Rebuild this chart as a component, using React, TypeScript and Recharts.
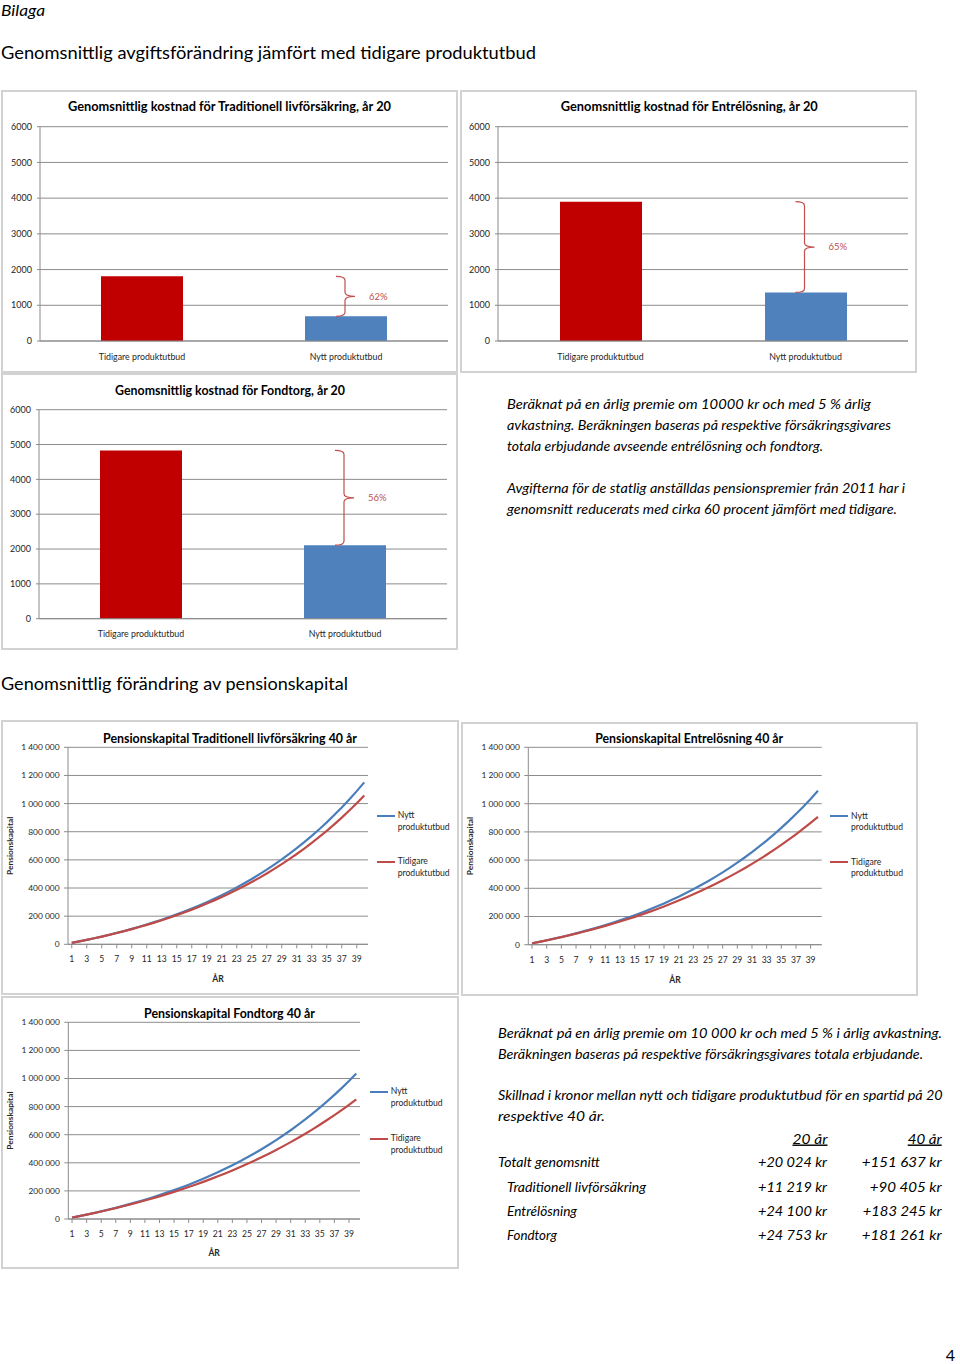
import React from 'react';
import {
  BarChart,
  Bar,
  Cell,
  XAxis,
  YAxis,
  CartesianGrid,
  ReferenceLine,
  LineChart,
  Line,
  Legend,
  Label,
} from 'recharts';

const FONT = 'Lato, "Open Sans", sans-serif';
const GRID = '#8c8c8c';
const TICK_FILL = '#262626';
const BRACE = '#c0504d';

// ---------- bar charts (fees, year 20) ----------
const barCategories = ['Tidigare produktutbud', 'Nytt produktutbud'];
const barColors = ['#c00000', '#4f81bd'];
const tradCost = [1810, 690];
const entreCost = [3900, 1360];
const fondCost = [4830, 2110];
const costTicks = [0, 1000, 2000, 3000, 4000, 5000, 6000];
const reductionLabels = ['62%', '65%', '56%'];
const costTitles = [
  'Genomsnittlig kostnad för Traditionell livförsäkring, år 20',
  'Genomsnittlig kostnad för Entrélösning, år 20',
  'Genomsnittlig kostnad för Fondtorg, år 20',
];

// ---------- line charts (pension capital, 40 years) ----------
const years = [
  1, 2, 3, 4, 5, 6, 7, 8, 9, 10, 11, 12, 13, 14, 15, 16, 17, 18, 19, 20,
  21, 22, 23, 24, 25, 26, 27, 28, 29, 30, 31, 32, 33, 34, 35, 36, 37, 38, 39, 40,
];
const tradNytt = [
  10000, 20500, 31500, 43000, 55000, 67700, 80900, 94800, 109400, 124600,
  140600, 157300, 174900, 193300, 212600, 232800, 253900, 276100, 299400, 323800,
  349300, 376100, 404100, 433500, 464300, 496600, 530400, 565900, 603100, 642000,
  682800, 725600, 770400, 817400, 866700, 918300, 972300, 1029000, 1088400, 1150600,
];
const tradTidigare = [
  10000, 20400, 31400, 42800, 54700, 67100, 80100, 93600, 107800, 122600,
  138100, 154200, 171100, 188700, 207100, 226300, 246300, 267300, 289200, 312100,
  336000, 360900, 387000, 414200, 442600, 472300, 503300, 535700, 569600, 604900,
  641800, 680400, 720700, 762800, 806700, 852600, 900500, 950600, 1002900, 1057500,
];
const entreNytt = [
  10000, 20500, 31400, 42800, 54800, 67300, 80400, 94100, 108400, 123300,
  139000, 155400, 172500, 190400, 209100, 228700, 249100, 270600, 292900, 316400,
  340800, 366500, 393200, 421300, 450500, 481200, 513200, 546700, 581800, 618400,
  656700, 696800, 738700, 782600, 828400, 876300, 926500, 978900, 1033700, 1091100,
];
const entreTidigare = [
  10000, 20400, 31200, 42300, 53900, 66000, 78500, 91500, 105000, 119000,
  133500, 148500, 164200, 180400, 197300, 214800, 232900, 251800, 271400, 291700,
  312800, 334600, 357400, 380900, 405400, 430800, 457200, 484600, 513000, 542500,
  573100, 604900, 637900, 672100, 707600, 744500, 782800, 822600, 863800, 906600,
];
const fondNytt = [
  10000, 20400, 31300, 42700, 54600, 66900, 79900, 93300, 107400, 122100,
  137400, 153400, 170100, 187500, 205700, 224600, 244400, 265100, 286700, 309200,
  332600, 357100, 382700, 409400, 437200, 466300, 496600, 528300, 561300, 595800,
  631800, 669300, 708500, 749400, 792100, 836600, 883100, 931600, 982200, 1035000,
];
const fondTidigare = [
  10000, 20400, 31100, 42200, 53700, 65600, 77900, 90600, 103800, 117500,
  131600, 146300, 161400, 177100, 193400, 210200, 227600, 245700, 264300, 283700,
  303700, 324400, 345900, 368100, 391100, 414900, 439500, 465000, 491400, 518800,
  547100, 576400, 606800, 638200, 670700, 704400, 739200, 775300, 812700, 851400,
];
const capitalTicks = [0, 200000, 400000, 600000, 800000, 1000000, 1200000, 1400000];
const seriesNames = ['Nytt produktutbud', 'Tidigare produktutbud'];
const seriesColors = ['#4a7ebb', '#be4b48'];
const capitalTitles = [
  'Pensionskapital Traditionell livförsäkring 40 år',
  'Pensionskapital Entrelösning 40 år',
  'Pensionskapital Fondtorg 40 år',
];

// ---------- page text ----------
const pageTitle = 'Bilaga';
const heading1 = 'Genomsnittlig avgiftsförändring jämfört med tidigare produktutbud';
const heading2 = 'Genomsnittlig förändring av pensionskapital';
const feeNoteLines = [
  'Beräknat på en årlig premie om 10000 kr och med 5 % årlig',
  'avkastning. Beräkningen baseras på respektive försäkringsgivares',
  'totala erbjudande avseende entrélösning och fondtorg.',
  'Avgifterna för de statlig anställdas pensionspremier från 2011 har i',
  'genomsnitt reducerats med cirka 60 procent jämfört med tidigare.',
];
const capitalNoteLines = [
  'Beräknat på en årlig premie om 10 000 kr och med 5 % i årlig avkastning.',
  'Beräkningen baseras på respektive försäkringsgivares totala erbjudande.',
  'Skillnad i kronor mellan nytt och tidigare produktutbud för en spartid på 20',
  'respektive 40 år.',
];
const tableHeaders = ['20 år', '40 år'];
const tableLabels = ['Totalt genomsnitt', 'Traditionell livförsäkring', 'Entrélösning', 'Fondtorg'];
const diff20 = ['+20 024 kr', '+11 219 kr', '+24 100 kr', '+24 753 kr'];
const diff40 = ['+151 637 kr', '+90 405 kr', '+183 245 kr', '+181 261 kr'];
const pageNumber = '4';

const fmtSpace = (v: number) => String(v).replace(/\B(?=(\d{3})+(?!\d))/g, ' ');

const tickStyle = { fontSize: 9, fill: TICK_FILL, fontFamily: FONT };

function Frame() {
  return (
    <div
      style={{
        position: 'absolute',
        left: 0,
        top: 0,
        right: 0,
        bottom: 0,
        border: '2px solid #d2d2d2',
        boxSizing: 'border-box',
        pointerEvents: 'none',
      }}
    />
  );
}

function Brace(props: any) {
  const { x1, y1, y2, label } = props;
  if (x1 == null || y1 == null || y2 == null) return null;
  const x = x1 - 1;
  const top = Math.min(y1, y2);
  const bot = Math.max(y1, y2);
  const mid = (top + bot) / 2;
  const d = `M ${x - 9} ${top} Q ${x} ${top} ${x} ${top + 4} L ${x} ${mid - 4} Q ${x} ${mid} ${x + 10} ${mid} Q ${x} ${mid} ${x} ${mid + 4} L ${x} ${bot - 4} Q ${x} ${bot} ${x - 9} ${bot}`;
  return (
    <g>
      <path d={d} fill="none" stroke={BRACE} strokeWidth={1.2} />
      <text x={x + 24} y={mid} dy="0.35em" fontSize={9.5} fill={BRACE} fontFamily={FONT}>
        {label}
      </text>
    </g>
  );
}

function CostChart({ box, plot, values, pct }: any) {
  const data = barCategories.map((c, i) => ({ name: c, value: values[i] }));
  return (
    <div style={{ position: 'absolute', left: box.left, top: box.top, width: box.w, height: box.h }}>
      <BarChart
        width={box.w}
        height={box.h}
        data={data}
        margin={{ top: plot.top, right: plot.right, bottom: 0, left: 0 }}
      >
        <CartesianGrid vertical={false} stroke={GRID} />
        <XAxis
          dataKey="name"
          height={plot.bottom}
          interval={0}
          tickLine={false}
          tickSize={4}
          tickMargin={8.5}
          axisLine={{ stroke: GRID }}
          tick={{ ...tickStyle, fontSize: 8.8 }}
        />
        <YAxis
          width={plot.left}
          domain={[0, 6000]}
          ticks={costTicks}
          interval={0}
          tickSize={3}
          tickMargin={5}
          axisLine={{ stroke: GRID }}
          tickLine={{ stroke: GRID }}
          tick={tickStyle}
        />
        <Bar dataKey="value" barSize={82} isAnimationActive={false}>
          {data.map((d, i) => (
            <Cell key={d.name} fill={barColors[i]} />
          ))}
        </Bar>
        <ReferenceLine
          segment={[
            { x: barCategories[1], y: values[0] },
            { x: barCategories[1], y: values[1] },
          ]}
          ifOverflow="visible"
          shape={(p: any) => <Brace {...p} label={pct} />}
        />
      </BarChart>
      <Frame />
    </div>
  );
}

function LegendContent(props: any) {
  const { payload, spacing } = props;
  return (
    <div style={{ fontFamily: FONT, fontSize: 8.6, color: TICK_FILL, lineHeight: '11.5px' }}>
      {(payload || []).map((entry: any, i: number) => {
        const parts = String(entry.value).split(' ');
        return (
          <div key={i} style={{ position: 'relative', height: spacing, paddingLeft: 21, whiteSpace: 'nowrap' }}>
            <div
              style={{
                position: 'absolute',
                left: 0,
                top: 4.75,
                width: 18,
                height: 2.2,
                background: entry.color,
              }}
            />
            <div>{parts[0]}</div>
            <div>{parts.slice(1).join(' ')}</div>
          </div>
        );
      })}
    </div>
  );
}

function CapitalChart({ box, plot, nytt, tidigare, legend }: any) {
  const data = years.map((y, i) => ({ year: y, nytt: nytt[i], tidigare: tidigare[i] }));
  return (
    <div style={{ position: 'absolute', left: box.left, top: box.top, width: box.w, height: box.h }}>
      <LineChart
        width={box.w}
        height={box.h}
        data={data}
        margin={{ top: plot.top, right: plot.right, bottom: 0, left: 0 }}
      >
        <CartesianGrid vertical={false} stroke={GRID} />
        <XAxis
          dataKey="year"
          height={plot.bottom}
          interval={1}
          padding={{ left: 3.75, right: 3.75 }}
          tickSize={4}
          tickMargin={8}
          tickLine={{ stroke: GRID }}
          axisLine={{ stroke: GRID }}
          tick={{ ...tickStyle, fontSize: 8.6 }}
        >
          <Label
            value="ÅR"
            position="insideBottom"
            offset={13}
            style={{ fontSize: 8.6, fontWeight: 700, fill: TICK_FILL, fontFamily: FONT }}
          />
        </XAxis>
        <YAxis
          width={plot.left}
          domain={[0, 1400000]}
          ticks={capitalTicks}
          interval={0}
          tickFormatter={fmtSpace}
          tickSize={4}
          tickMargin={4.5}
          axisLine={{ stroke: GRID }}
          tickLine={{ stroke: GRID }}
          tick={{ ...tickStyle, fontSize: 8.4 }}
        >
          <Label
            value="Pensionskapital"
            angle={-90}
            position="insideLeft"
            offset={9}
            style={{ fontSize: 8.4, fontWeight: 700, fill: TICK_FILL, fontFamily: FONT, textAnchor: 'middle' }}
          />
        </YAxis>
        <Line
          type="linear"
          dataKey="nytt"
          name={seriesNames[0]}
          stroke={seriesColors[0]}
          strokeWidth={2.2}
          dot={false}
          isAnimationActive={false}
        />
        <Line
          type="linear"
          dataKey="tidigare"
          name={seriesNames[1]}
          stroke={seriesColors[1]}
          strokeWidth={2.2}
          dot={false}
          isAnimationActive={false}
        />
        <Legend
          layout="vertical"
          align="center"
          verticalAlign="middle"
          wrapperStyle={{ left: legend.left, top: legend.top, width: 90, height: 100 }}
          content={(p: any) => <LegendContent {...p} spacing={legend.spacing} />}
        />
      </LineChart>
      <Frame />
    </div>
  );
}

function PText({ x, y, len, size, italic, bold, anchor, underline, children }: any) {
  return (
    <text
      x={x}
      y={y}
      textLength={len}
      lengthAdjust={len ? 'spacingAndGlyphs' : undefined}
      fontSize={size}
      fontStyle={italic ? 'italic' : 'normal'}
      fontWeight={bold ? 700 : 400}
      textAnchor={anchor || 'start'}
      textDecoration={underline ? 'underline' : undefined}
      fontFamily={FONT}
      fill="#000"
    >
      {children}
    </text>
  );
}

export default function App() {
  const feeLayout = [
    { y: 408.5, len: 364 },
    { y: 429.5, len: 384 },
    { y: 450.5, len: 316 },
    { y: 492.5, len: 398 },
    { y: 513.5, len: 390 },
  ];
  const capLayout = [
    { y: 1037.5, len: 444 },
    { y: 1059, len: 425 },
    { y: 1100, len: 444.7 },
    { y: 1121, len: 107 },
  ];
  const rowY = [1167, 1191.7, 1215.7, 1240];
  const labelX = [498, 507, 507, 507];
  const labelLen = [102, 139, 70, 50];
  const col2Len = [80, 72, 79, 80];
  const titleLayout = [
    { cx: 229.5, y: 110.5, len: 323 },
    { cx: 689.3, y: 110.5, len: 257 },
    { cx: 230, y: 394.8, len: 230 },
  ];
  const capTitleLayout = [
    { cx: 230, y: 742.5, len: 254 },
    { cx: 689.2, y: 742.5, len: 188 },
    { cx: 229.5, y: 1017.8, len: 171 },
  ];
  const bodySize = 14.2;
  return (
    <div style={{ position: 'relative', width: 960, height: 1364, background: '#fff', overflow: 'hidden' }}>
      <style>{'body{margin:0;}'}</style>

      <CostChart
        box={{ left: 1, top: 90, w: 457, h: 283 }}
        plot={{ left: 39, top: 36.7, right: 10, bottom: 32 }}
        values={tradCost}
        pct={reductionLabels[0]}
      />
      <CostChart
        box={{ left: 460, top: 90, w: 457, h: 283 }}
        plot={{ left: 38, top: 36.7, right: 9, bottom: 32 }}
        values={entreCost}
        pct={reductionLabels[1]}
      />
      <CostChart
        box={{ left: 1, top: 373, w: 457, h: 277 }}
        plot={{ left: 38, top: 36.7, right: 11, bottom: 31.3 }}
        values={fondCost}
        pct={reductionLabels[2]}
      />

      <CapitalChart
        box={{ left: 1, top: 720, w: 458, h: 275 }}
        plot={{ left: 67, top: 27.3, right: 91, bottom: 50.7 }}
        nytt={tradNytt}
        tidigare={tradTidigare}
        legend={{ left: 375.7, top: 90, spacing: 46.3 }}
      />
      <CapitalChart
        box={{ left: 461, top: 722, w: 457, h: 274 }}
        plot={{ left: 67.3, top: 25.3, right: 96.3, bottom: 51.3 }}
        nytt={entreNytt}
        tidigare={entreTidigare}
        legend={{ left: 369, top: 88.5, spacing: 46 }}
      />
      <CapitalChart
        box={{ left: 1, top: 996, w: 458, h: 273 }}
        plot={{ left: 67.3, top: 26.3, right: 99, bottom: 50 }}
        nytt={fondNytt}
        tidigare={fondTidigare}
        legend={{ left: 368.7, top: 90, spacing: 47.3 }}
      />

      <svg
        width={960}
        height={1364}
        style={{ position: 'absolute', left: 0, top: 0, pointerEvents: 'none' }}
      >
        <PText x={1} y={16} len={44} size={16} italic>
          {pageTitle}
        </PText>
        <PText x={1} y={59} len={535} size={18}>
          {heading1}
        </PText>
        <PText x={1} y={690} len={347} size={18}>
          {heading2}
        </PText>

        {costTitles.map((t, i) => (
          <PText key={t} x={titleLayout[i].cx} y={titleLayout[i].y} len={titleLayout[i].len} size={12.5} bold anchor="middle">
            {t}
          </PText>
        ))}
        {capitalTitles.map((t, i) => (
          <PText key={t} x={capTitleLayout[i].cx} y={capTitleLayout[i].y} len={capTitleLayout[i].len} size={12.5} bold anchor="middle">
            {t}
          </PText>
        ))}

        {feeNoteLines.map((t, i) => (
          <PText key={t} x={507} y={feeLayout[i].y} len={feeLayout[i].len} size={bodySize} italic>
            {t}
          </PText>
        ))}
        {capitalNoteLines.map((t, i) => (
          <PText key={t} x={498} y={capLayout[i].y} len={capLayout[i].len} size={bodySize} italic>
            {t}
          </PText>
        ))}

        <PText x={827.5} y={1143.5} len={35} size={bodySize} italic anchor="end" underline>
          {tableHeaders[0]}
        </PText>
        <PText x={941.7} y={1143.5} len={34} size={bodySize} italic anchor="end" underline>
          {tableHeaders[1]}
        </PText>
        {tableLabels.map((t, i) => (
          <g key={t}>
            <PText x={labelX[i]} y={rowY[i]} len={labelLen[i]} size={bodySize} italic>
              {t}
            </PText>
            <PText x={827} y={rowY[i]} len={69} size={bodySize} italic anchor="end">
              {diff20[i]}
            </PText>
            <PText x={941.7} y={rowY[i]} len={col2Len[i]} size={bodySize} italic anchor="end">
              {diff40[i]}
            </PText>
          </g>
        ))}

        <PText x={955} y={1361} size={16} anchor="end">
          {pageNumber}
        </PText>
      </svg>
    </div>
  );
}
